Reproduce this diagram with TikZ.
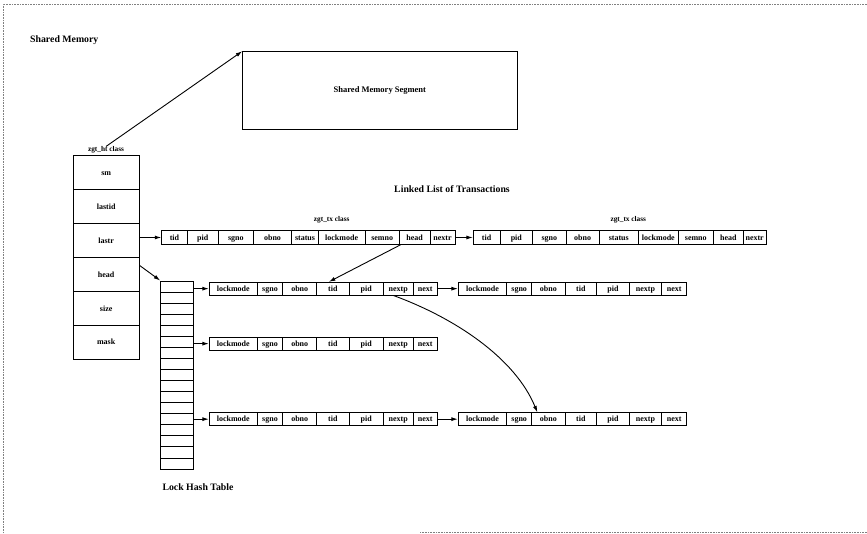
\documentclass[tikz,border=0pt]{standalone}
\usepackage{fontspec}
\setmainfont{Liberation Serif}
\usetikzlibrary{arrows.meta,calc}
\tikzset{
  cell/.style={draw, line width=0.9pt, inner sep=0pt, text height=1.5ex, text depth=0.3ex, font=\fontsize{8}{9}\selectfont\bfseries},
  arr/.style={line width=0.9pt, -{Latex[length=6.5pt,width=4pt]}},
  title/.style={font=\fontsize{9.8}{11}\selectfont\bfseries, inner sep=0pt},
  smalllab/.style={font=\fontsize{7.3}{8}\selectfont\bfseries, inner sep=0pt},
  frameline/.style={densely dotted, gray, line width=0.6pt},
}
\newcommand\mkrow[4]{%
  \foreach \xa/\xb/\lab [count=\i] in {#4} {%
    \node[cell, minimum width={\xb-\xa}, minimum height=#3] (#1\i) at ({(\xa+\xb)/2},{#2+#3/2}) {\lab};
  }%
}
\begin{document}
\begin{tikzpicture}[x=1pt,y=-1pt]
\useasboundingbox (0,0) rectangle (867,534);
% frame
\draw[frameline] (867,4) -- (3,4) -- (3,534);
\draw[frameline] (420,532) -- (867,532);
% titles
\node[title, anchor=west] (shm) at (30,40) {Shared Memory};
\node[title] (llt) at (452,189) {Linked List of Transactions};
\node[title] (lht) at (198,487) {Lock Hash Table};
% segment
\node[draw, line width=0.9pt, minimum width=274.3, minimum height=77.6, font=\fontsize{8.5}{9}\selectfont\bfseries] (seg) at (379.85,90.5) {Shared Memory Segment};
% zgt_ht column
\node[smalllab] (htlab) at (106,150) {zgt\_ht class};
\foreach \lab [count=\i] in {sm,lastid,lastr,head,size,mask}
  \node[cell, minimum width=65.7, minimum height=33.9] (ht\i) at (106.15,{155.7+(\i-0.5)*33.9}) {\lab};
\draw[arr] (htlab.north) -- (seg.north west);
% hash table
\foreach \i in {1,...,17}
  \node[cell, minimum width=32.6, minimum height=11.06] (hash\i) at (177,{281+(\i-0.5)*11.06}) {};
% transaction records
\node[smalllab] (txlab1) at (331.7,220) {zgt\_tx class};
\node[smalllab] (txlab2) at (628.3,220) {zgt\_tx class};
\mkrow{tx1c}{230.7}{13.6}{161.7/187.3/tid, 187.3/218.3/pid, 218.3/253.3/sgno, 253.3/291.7/obno, 291.7/318.3/status, 318.3/365/lockmode, 365/399.3/semno, 399.3/430/head, 430/455/nextr}
\mkrow{tx2c}{230.7}{13.6}{473.3/500/tid, 500/532.7/pid, 532.7/566/sgno, 566/599.3/obno, 599.3/638.3/status, 638.3/678.3/lockmode, 678.3/713.3/semno, 713.3/743.3/head, 743.3/766/nextr}
% lock rows
\mkrow{Ac}{282.3}{12.7}{209.3/257.3/lockmode, 257.3/282.7/sgno, 282.7/316.7/obno, 316.7/349/tid, 349/383.3/pid, 383.3/413.3/nextp, 413.3/437.3/next}
\mkrow{AAc}{282.3}{12.7}{458.3/506.7/lockmode, 506.7/531.7/sgno, 531.7/565/obno, 565/596.7/tid, 596.7/629.3/pid, 629.3/661.7/nextp, 661.7/686.7/next}
\mkrow{Bc}{337.3}{12.7}{209.3/257.3/lockmode, 257.3/282.7/sgno, 282.7/316.7/obno, 316.7/349/tid, 349/383.3/pid, 383.3/413.3/nextp, 413.3/437.3/next}
\mkrow{Cc}{412.8}{12.7}{209.3/257.3/lockmode, 257.3/282.7/sgno, 282.7/316.7/obno, 316.7/349/tid, 349/383.3/pid, 383.3/413.3/nextp, 413.3/437.3/next}
\mkrow{CCc}{412.8}{12.7}{458.3/506.7/lockmode, 506.7/531.7/sgno, 531.7/565/obno, 565/596.7/tid, 596.7/629.3/pid, 629.3/661.7/nextp, 661.7/686.7/next}
% connectors
\draw[arr] (ht3.east |- tx1c1.west) -- (tx1c1.west);
\draw[arr] (tx1c9.east) -- (tx2c1.west);
\draw[arr] ([yshift=9pt]ht4.east) -- (hash1.north west);
\draw[arr] (hash1.east |- Ac1.west) -- (Ac1.west);
\draw[arr] (hash6.east |- Bc1.west) -- (Bc1.west);
\draw[arr] (hash13.east |- Cc1.west) -- (Cc1.west);
\draw[arr] (Ac7.east) -- (AAc1.west);
\draw[arr] (Cc7.east) -- (CCc1.west);
\draw[arr] ([xshift=-14pt]tx1c8.south) -- ([xshift=-4pt]Ac4.north);
\draw[arr] ([xshift=-5pt]Ac6.south) .. controls (455,318) and (515,358) .. ([xshift=-11pt]CCc3.north);
\end{tikzpicture}
\end{document}
